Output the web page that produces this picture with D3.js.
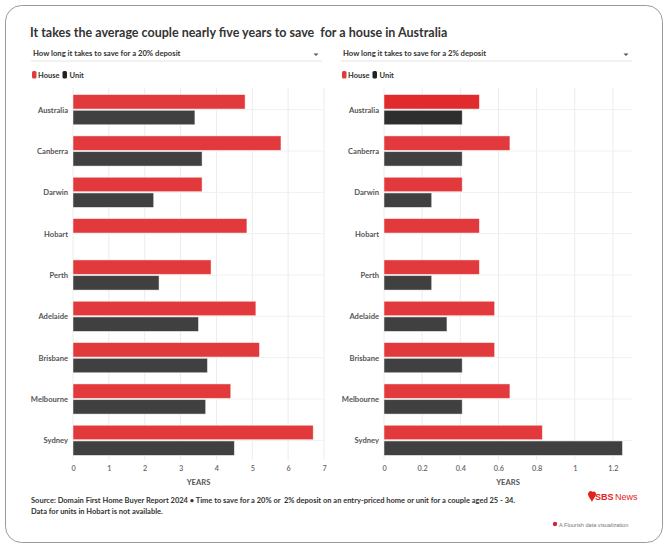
<!DOCTYPE html>
<html><head><meta charset="utf-8">
<script src="https://cdn.jsdelivr.net/npm/d3@7"></script>
<style>
body{margin:0;background:#fff;}
svg{display:block;font-family:Lato,"Noto Sans",sans-serif;}
text{white-space:pre;}
</style></head>
<body>
<svg id="c" width="668" height="549"></svg>
<script>
const categories = ["Australia","Canberra","Darwin","Hobart","Perth","Adelaide","Brisbane","Melbourne","Sydney"];
const house20 = [4.8, 5.8, 3.6, 4.85, 3.85, 5.1, 5.2, 4.4, 6.7];
const unit20  = [3.4, 3.6, 2.25, null, 2.4, 3.5, 3.75, 3.7, 4.5];
const house2  = [0.5, 0.66, 0.41, 0.5, 0.5, 0.58, 0.58, 0.66, 0.83];
const unit2   = [0.41, 0.41, 0.25, null, 0.25, 0.33, 0.41, 0.41, 1.25];
const ticks20 = [0,1,2,3,4,5,6,7];
const ticks2  = [0,0.2,0.4,0.6,0.8,1,1.2];
const seriesNames = ["House","Unit"];

const RED = "#e2393c", DARK = "#404040";
const svg = d3.select("#c");

// card
svg.append("rect").attr("x",5.5).attr("y",5.5).attr("width",657).attr("height",537)
  .attr("rx",16).attr("fill","#fff").attr("stroke","#9a9a9a").attr("stroke-width",1);

svg.append("text").attr("x",30).attr("y",37).attr("font-size",12.5).attr("font-weight",700)
  .attr("fill","#333").text("It takes the average couple nearly five years to save  for a house in Australia");

function panel(opt){
  const g = svg.append("g");
  // dropdown
  g.append("text").attr("x",opt.dx).attr("y",56).attr("font-size",7.7).attr("font-weight",700)
    .attr("fill","#333").text(opt.title);
  g.append("path").attr("d",`M${opt.dx2-2.5},53.5 l5,0 l-2.5,2.5 z`).attr("fill","#555");
  g.append("line").attr("x1",opt.dx-2).attr("x2",opt.dx2+6).attr("y1",61).attr("y2",61)
    .attr("stroke","#e4e4e4");
  // legend
  const lg = g.append("g").attr("transform",`translate(${opt.dx-1},71)`);
  lg.append("rect").attr("x",0).attr("y",0).attr("width",4.5).attr("height",7.5).attr("rx",1.5).attr("fill",RED);
  lg.append("text").attr("x",6).attr("y",6.8).attr("font-size",7.5).attr("font-weight",700).attr("fill","#333").text(seriesNames[0]);
  lg.append("rect").attr("x",30.5).attr("y",0).attr("width",4.5).attr("height",7.5).attr("rx",1.5).attr("fill","#222");
  lg.append("text").attr("x",37.5).attr("y",6.8).attr("font-size",7.5).attr("font-weight",700).attr("fill","#333").text(seriesNames[1]);

  const x = d3.scaleLinear().domain(opt.domain).range([opt.x0,opt.x1]);
  const y = d3.scaleBand().domain(categories).range([89,461]).paddingInner(0.27).paddingOuter(0.135);
  const ys = d3.scaleBand().domain(seriesNames).range([0,y.bandwidth()]).paddingInner(0.08);

  // vertical grid
  g.append("g").selectAll("line").data(opt.ticks).join("line")
    .attr("x1",d=>x(d)).attr("x2",d=>x(d)).attr("y1",88).attr("y2",460)
    .attr("stroke","#ececec").attr("stroke-width",1);
  // horizontal grid
  g.append("g").selectAll("line").data(categories).join("line")
    .attr("x1",opt.x0).attr("x2",opt.x1).attr("y1",d=>y(d)+y.bandwidth()/2).attr("y2",d=>y(d)+y.bandwidth()/2)
    .attr("stroke","#f0f0f0");

  const rows = categories.map((c,i)=>({c, h:opt.house[i], u:opt.unit[i], i}));
  const rg = g.append("g").selectAll("g").data(rows).join("g").attr("transform",d=>`translate(0,${y(d.c)})`);
  rg.append("rect").attr("x",x(0)).attr("y",ys("House")).attr("height",ys.bandwidth())
    .attr("width",d=>x(d.h)-x(0))
    .attr("fill",d=> (opt.highlight && d.i===0) ? "#e12a2b" : RED)
    .attr("stroke","#fff").attr("stroke-opacity",0.6).attr("stroke-width",0.8);
  rg.filter(d=>d.u!=null).append("rect").attr("x",x(0)).attr("y",ys("Unit")).attr("height",ys.bandwidth())
    .attr("width",d=>x(d.u)-x(0))
    .attr("fill",d=> (opt.highlight && d.i===0) ? "#2e2e2e" : DARK)
    .attr("stroke","#fff").attr("stroke-opacity",0.6).attr("stroke-width",0.8);

  // category labels
  g.append("g").selectAll("text").data(categories).join("text")
    .attr("x",opt.x0-5).attr("y",d=>y(d)+y.bandwidth()/2+3)
    .attr("text-anchor","end").attr("font-size",7.6).attr("font-weight",700).attr("fill","#555").text(d=>d);

  // x axis
  const ax = g.append("g").attr("transform","translate(0,460)")
    .call(d3.axisBottom(x).tickValues(opt.ticks).tickSize(0).tickPadding(6).tickFormat(d3.format("~g")));
  ax.select(".domain").remove();
  ax.selectAll("text").attr("font-size",7.3).attr("font-weight",600).attr("fill","#666").attr("font-family","Lato,'Noto Sans',sans-serif");

  g.append("text").attr("x",(opt.x0+opt.x1)/2).attr("y",485).attr("text-anchor","middle")
    .attr("font-size",7.6).attr("font-weight",700).attr("fill","#555").text("YEARS");
}

panel({title:"How long it takes to save for a 20% deposit", dx:33, dx2:316, x0:73, x1:324, domain:[0,7], ticks:ticks20, house:house20, unit:unit20});
panel({title:"How long it takes to save for a 2% deposit", dx:343, dx2:626, x0:384, x1:632, domain:[0,1.3], ticks:ticks2, house:house2, unit:unit2, highlight:true});

// source
svg.append("text").attr("x",31).attr("y",503).attr("font-size",7.5).attr("font-weight",700).attr("fill","#333")
  .text("Source: Domain First Home Buyer Report 2024 • Time to save for a 20% or  2% deposit on an entry-priced home or unit for a couple aged 25 - 34.");
svg.append("text").attr("x",31).attr("y",514).attr("font-size",7.5).attr("font-weight",700).attr("fill","#333")
  .text("Data for units in Hobart is not available.");

// SBS News logo
const lg = svg.append("g").attr("transform","translate(588,491)");
lg.append("path").attr("d","M3,0 C1,0 0,2 0,3 C0,6 3,8 4,11 C5,8 8,6 8,3 C8,1 6,0 5,1 Z").attr("fill","#e2231a");
lg.append("text").attr("x",7).attr("y",9).attr("font-size",9).attr("font-family","'Liberation Sans',Arial,sans-serif")
  .attr("fill","#e2231a").attr("font-weight",700).text("SBS");
lg.append("text").attr("x",27).attr("y",9).attr("font-size",9).attr("font-family","'Liberation Sans',Arial,sans-serif")
  .attr("fill","#e2231a").text("News");

// flourish credit
svg.append("circle").attr("cx",555).attr("cy",524).attr("r",2.2).attr("fill","#d6243a");
svg.append("text").attr("x",559).attr("y",526.5).attr("font-size",5.6).attr("fill","#777")
  .attr("font-family","'Liberation Sans',Arial,sans-serif").text("A Flourish data visualization");
</script>
</body></html>
